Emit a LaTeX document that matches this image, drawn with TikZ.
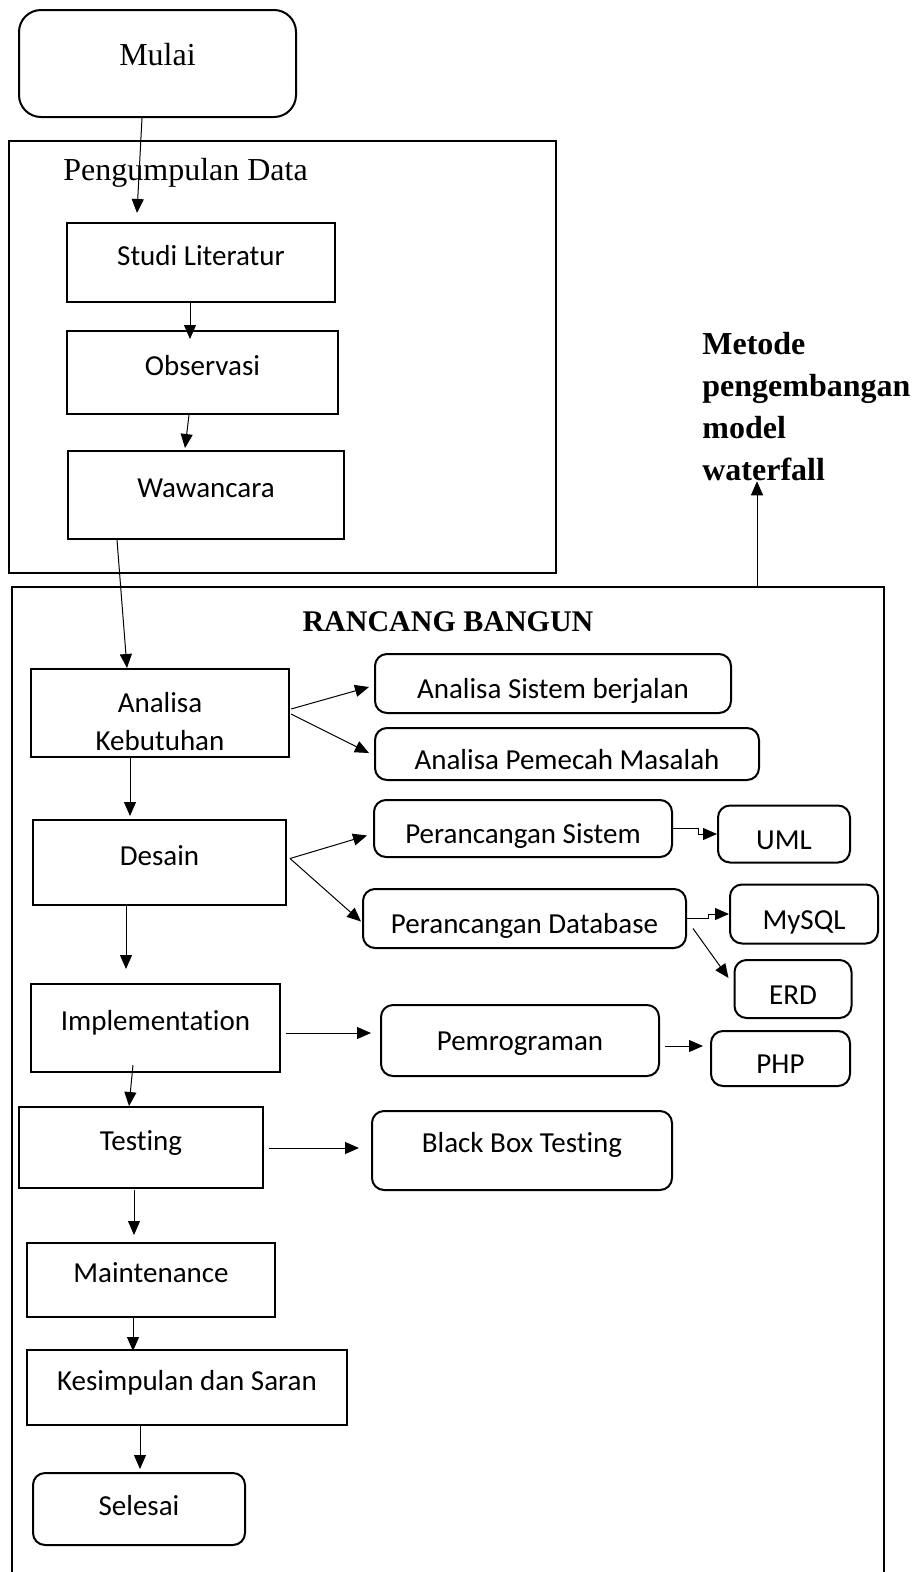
\documentclass[tikz,border=0pt]{standalone}
\usepackage{fontspec}
\setmainfont{Liberation Serif}
\newfontfamily\calibri[Ligatures=NoCommon]{Carlito}
\usetikzlibrary{arrows.meta}

\tikzset{every picture/.style={line width=0.75pt}}
\tikzset{
  kotak/.style={draw, line width=2pt, rectangle, inner sep=0pt,
    font=\calibri\fontsize{29}{38}\selectfont, text height=20pt, text depth=15pt},
  bulat/.style={draw, line width=2pt, rounded corners=12pt, inner sep=0pt,
    font=\calibri\fontsize{29}{38}\selectfont, text height=30pt, text depth=0pt},
  wadah/.style={draw, line width=2.5pt, rectangle, inner sep=0pt},
  judul/.style={inner sep=0pt, font=\fontsize{32}{40}\selectfont},
  panah/.style={-{Triangle[length=14pt,width=12pt]}, line width=1pt},
}

\begin{document}
\begin{tikzpicture}[x=1pt,y=1pt,yscale=-1,xscale=1]
\useasboundingbox (0,0) rectangle (916,1572);

%Shape: Rounded Rect [mulai]
\node[bulat, font=\fontsize{32}{40}\selectfont, rounded corners=22pt,
  text height=23pt, text depth=19pt, minimum width=277pt, minimum height=107pt] (mulai) at (157.5,63.5) {Mulai};

%Shape: Rectangle [pengumpulan data]
\node[wadah, minimum width=547pt, minimum height=432pt] (kumpul) at (282.5,357) {};
% Text Node
\node[judul, anchor=west] (judulkumpul) at (63,173) {Pengumpulan Data};

\node[kotak, minimum width=268pt, minimum height=79pt] (studi) at (201,262.5) {Studi Literatur};
\node[kotak, minimum width=271pt, minimum height=83pt] (obs) at (202.5,372.5) {Observasi};
\node[kotak, minimum width=276pt, minimum height=88pt] (waw) at (206,495) {Wawancara};

%Shape: Rectangle [rancang bangun], bottom runs off the page
\draw[line width=2.5pt] (12,1575) -- (12,587) -- (884,587) -- (884,1575);
\coordinate (rbtop) at (757,587);
% Text Node
\node[judul, font=\bfseries\fontsize{30}{36}\selectfont] (judulrb) at (448,622) {RANCANG BANGUN};
\node[judul, font=\bfseries\fontsize{32}{42}\selectfont, anchor=north west, align=left] (metode) at (702,332)
  {Metode\\pengembangan\\model\\waterfall};

\node[kotak, align=center, text height=, text depth=, minimum width=258pt, minimum height=88pt] (analisa) at (160,713)
  {\rule{0pt}{38pt}Analisa\\Kebutuhan};
\node[bulat, minimum width=356pt, minimum height=59pt] (sisjalan) at (553,683.5) {Analisa Sistem berjalan};
\node[bulat, minimum width=384pt, minimum height=52pt] (pemecah) at (567,754) {Analisa Pemecah Masalah};

\node[kotak, minimum width=253pt, minimum height=85pt] (desain) at (159.5,862.5) {Desain};
\node[bulat, minimum width=298pt, minimum height=57pt] (prsistem) at (523,828.5) {Perancangan Sistem};
\node[bulat, minimum width=132pt, minimum height=57pt] (uml) at (784,834) {UML};
\node[bulat, minimum width=323pt, minimum height=59pt] (prdb) at (524.5,918.5) {Perancangan Database};
\node[bulat, minimum width=148pt, minimum height=59pt] (mysql) at (804,914) {MySQL};
\node[bulat, minimum width=117pt, minimum height=58pt] (erd) at (793,989) {ERD};

\node[kotak, minimum width=249pt, minimum height=88pt] (impl) at (155.5,1028) {Implementation};
\node[bulat, minimum width=278pt, minimum height=71pt, text height=21pt, text depth=2pt] (pemro) at (520,1040.5) {Pemrograman};
\node[bulat, minimum width=139pt, minimum height=55pt] (php) at (780.5,1058.5) {PHP};

\node[kotak, minimum width=244pt, minimum height=81pt] (testing) at (141,1147.5) {Testing};
\node[bulat, minimum width=300pt, minimum height=79pt, text height=21pt, text depth=17pt] (bb) at (522,1150.5) {Black Box Testing};

\node[kotak, minimum width=248pt, minimum height=74pt] (maint) at (151,1280) {Maintenance};
\node[kotak, minimum width=320pt, minimum height=75pt] (kes) at (187,1387.5) {Kesimpulan dan Saran};
\node[bulat, minimum width=212pt, minimum height=72pt, text height=21pt, text depth=8pt] (selesai) at (139,1509) {Selesai};

%Straight Lines
\draw[panah] ([shift={(-15.5,0)}]mulai.south) -- ([shift={(-64,-9)}]studi.north);
\draw[panah] ([shift={(-11,0)}]studi.south) -- ([shift={(-12.5,9)}]obs.north);
\draw[panah] ([shift={(-13.5,0)}]obs.south) -- ([shift={(-21,-2)}]waw.north);
\draw[panah] ([shift={(-89,0)}]waw.south) -- ([shift={(-33,0)}]analisa.north);
\draw[panah] ([shift={(1,-4)}]analisa.east) -- ([shift={(-5,3.5)}]sisjalan.west);
\draw[panah] ([shift={(1,1)}]analisa.east) -- ([shift={(-5,-1)}]pemecah.west);
\draw[panah] ([shift={(-30,0)}]analisa.south) -- ([shift={(-29.5,-3)}]desain.north);
\draw[panah] ([shift={(3,-4)}]desain.east) -- ([shift={(-6,7)}]prsistem.west);
\draw[panah] ([shift={(3,-4)}]desain.east) -- ([shift={(-1,3)}]prdb.west);
\draw[panah] (prsistem.east) -- ++(25,0) |- (uml.west);
\draw[panah] (prdb.east) -- ++(21,0) |- (mysql.west);
\draw[panah] ([shift={(6,10)}]prdb.east) -- ([shift={(-5,19)}]erd.north west);
\draw[panah] ([shift={(-33.5,0)}]desain.south) -- ([shift={(-29.5,-14)}]impl.north);
\draw[panah] ([shift={(5,5)}]impl.east) -- ([shift={(-9,-7.5)}]pemro.west);
\draw[panah] ([shift={(5,5.5)}]pemro.east) -- ([shift={(-7,-12.5)}]php.west);
\draw[panah] ([shift={(-22.5,-8)}]impl.south) -- ([shift={(-12,0)}]testing.north);
\draw[panah] ([shift={(5,0.5)}]testing.east) -- ([shift={(-12,-2.5)}]bb.west);
\draw[panah] ([shift={(-7,1)}]testing.south) -- ([shift={(-17,-7)}]maint.north);
\draw[panah] ([shift={(-18,0)}]maint.south) -- ([shift={(-54,2)}]kes.north);
\draw[panah] ([shift={(-47,0)}]kes.south) -- ([shift={(1,-3)}]selesai.north);
\draw[panah] (rbtop) -- (rbtop |- metode.south);

\end{tikzpicture}
\end{document}
